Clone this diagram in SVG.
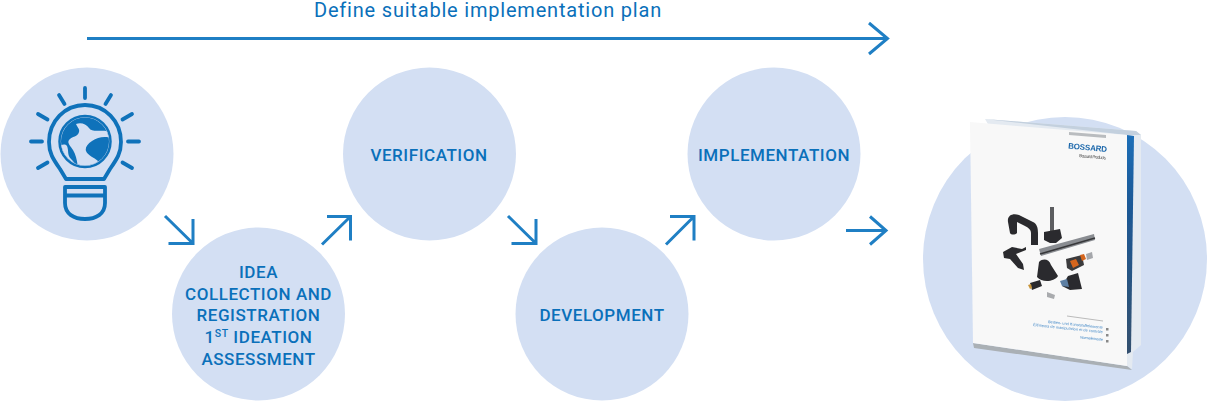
<svg xmlns="http://www.w3.org/2000/svg" width="1207" height="401" viewBox="0 0 1207 401">
<defs>
<style>
.c{fill:#d3dff3}
.t{font-family:"Roboto","Liberation Sans",sans-serif;font-weight:500;font-size:17px;fill:#0a70ba;text-anchor:middle;letter-spacing:.55px}
.a{fill:none;stroke:#1f7fc4;stroke-width:3}
.i{fill:none;stroke:#0f72ba;stroke-width:3.800;stroke-linecap:round;stroke-linejoin:round}
.k{fill:#2b2b2d}
</style>
<filter id="soft" x="-5%" y="-5%" width="110%" height="110%"><feGaussianBlur stdDeviation=".5"/></filter>
<clipPath id="globe"><circle cx="85" cy="141.500" r="24"/></clipPath>
<linearGradient id="blue" x1="0" y1="0" x2="0" y2="1"><stop offset="0" stop-color="#1f6fb8"/><stop offset=".3" stop-color="#1c5a98"/><stop offset="1" stop-color="#34506e"/></linearGradient>
</defs>
<rect width="1207" height="401" fill="#fff"/>
<g id="plan-arrow">
<text x="488" y="17" class="t" style="font-size:20px;letter-spacing:.8px;font-weight:400">Define suitable implementation plan</text>
<path class="a" d="M87 38.500H887M869 23L887.500 38.500L869 54"/>
</g>
<g id="node-idea">
<circle class="c" cx="87" cy="154" r="86.500"/>
<g class="i">
<path d="M85 88V98M59 95L64.500 104M111 95L105.500 104M38 114L47.500 119.500M132 114L122.500 119.500M31 141.500H42M128 141.500H139M38 168L47.500 162.500M132 168L122.500 162.500"/>
<path d="M66 179L60 169C53 159 49 153 49 142C49 121 65 105 85 105C105 105 121 121 121 142C121 153 117 159 110 169L104 179Z"/>
<path d="M65 187H105V203C105 214 96 219 85 219C74 219 65 214 65 203ZM65 195.500H105"/>
<circle cx="85" cy="141.500" r="25.500" stroke-width="2.500"/>
</g>
<circle cx="85" cy="141.500" r="24" fill="#0f72ba"/>
<g clip-path="url(#globe)">
<path class="c" d="M76 124C81 122 86 124 89 128C92 133 100 129 112 132L112 138C104 136 98 137 92 141C87 144 85 148 86 151C88 156 94 157 98 161L94 170L78 168C77 160 76 155 73 150C70 145 67 143 69 140C72 136 78 137 79 132C80 129 77 127 76 124Z"/>
<path class="c" d="M58 146C61 145 65 143 67 146C69 151 67 155 71 159C74 162 76 164 76 168L58 160Z"/>
</g>
</g>
<g id="node-idea-collection">
<circle class="c" cx="258.500" cy="314" r="86.500"/>
<text class="t"><tspan x="258.500" y="278">IDEA</tspan><tspan x="258.500" y="300">COLLECTION AND</tspan><tspan x="258.500" y="321">REGISTRATION</tspan><tspan x="258.500" y="343">1<tspan dy="-6" font-size="10.500">ST</tspan><tspan dy="6"> IDEATION</tspan></tspan><tspan x="258.500" y="365">ASSESSMENT</tspan></text>
</g>
<g id="node-verification">
<circle class="c" cx="429.500" cy="154" r="86.500"/>
<text x="429" y="160.500" class="t">VERIFICATION</text>
</g>
<g id="node-development">
<circle class="c" cx="602" cy="314" r="86.500"/>
<text x="602" y="320.500" class="t">DEVELOPMENT</text>
</g>
<g id="node-implementation">
<circle class="c" cx="774" cy="154" r="86.500"/>
<text x="774" y="160.500" class="t">IMPLEMENTATION</text>
</g>
<g id="connectors">
<path class="a" d="M165 216L193 243.500M193 219V243.500H168.500"/>
<path class="a" d="M322 244.500L350.500 216.500M327 216.500H350.500V240.500"/>
<path class="a" d="M508 216L536 243.500M536 219V243.500H511.500"/>
<path class="a" d="M666 244.500L694 216.500M670 216.500H694V240.500"/>
<path class="a" d="M846 230.500H886M870 216.500L886 230.500L870 244.500"/>
</g>
<g id="node-catalogue">
<circle class="c" cx="1065" cy="259" r="142"/>
<g filter="url(#soft)">
<path d="M985 119L1136 131L1141 135L1141 345L1133 352L1132 369L1127 366Z" fill="#e4eaf1"/>
<path d="M985 119L1136 131L1141 135L1127 135Z" fill="#c3d0de"/>
<path d="M1127 135L1134 136L1131 352L1127 354Z" fill="url(#blue)"/>
<path d="M973 343L1127 366L1132 370L974 348Z" fill="#aab0b5"/>
<path d="M970 122L1127 135L1127 366L973 343Z" fill="#f8f8f8"/>
<path d="M1069 132L1106 135V138L1069 135Z" fill="#b9bcbf"/>
<text x="1068" y="148.500" font-family="Liberation Sans,sans-serif" font-size="8" font-weight="700" fill="#1b67ab" textLength="39" transform="rotate(5 1068 148.500)">BOSSARD</text>
<text x="1079" y="157" font-family="Liberation Sans,sans-serif" font-size="4.500" fill="#555" textLength="27" transform="rotate(5 1079 157)">Bossard Products</text>
<g id="products">
<path d="M1008 222C1007 215 1013 213 1019 215L1033 222C1037 224 1038 228 1038 233V245H1031V233C1031 229 1027 227 1023 225L1017 222V233C1015 235 1011 235 1010 233Z" class="k"/>
<path d="M1050 207H1054V232H1050Z" fill="#5c5d60"/>
<path d="M1044 232L1060 229L1062 238L1056 243H1050L1044 240Z" class="k"/>
<path d="M1039 249L1094 234L1095 240L1041 256Z" fill="#8a8d92"/>
<path d="M1040 254L1095 238" stroke="#38393b" stroke-width="1.500" fill="none"/>
<path d="M1003 252L1012 247L1022 249L1026 247L1026 250L1016 254L1023 264L1024 270L1018 268L1010 259L1004 258Z" class="k"/>
<path d="M1039 262C1043 258 1049 259 1051 265L1058 276C1054 282 1042 283 1037 277Z" class="k"/>
<path d="M1066 259L1082 255L1084 265L1072 271L1067 268Z" fill="#3a3a3c"/>
<path d="M1070 261L1076 259L1079 265L1073 268ZM1080 255L1084 254L1086 259L1082 261Z" fill="#d4651f"/>
<path d="M1086 254L1092 252L1093 258L1087 260Z" fill="#a5a7ab"/>
<path d="M1068 276L1078 273L1082 289L1070 290L1062 286Z" class="k"/>
<path d="M1060 281L1067 279L1069 287L1062 286Z" fill="#5d7fa3"/>
<path d="M1030 283L1040 280L1042 286L1032 290Z" class="k"/>
<path d="M1028 285L1031 284L1032 288L1030 289Z" fill="#c8953a"/>
<path d="M1047 292L1055 295L1054 299L1047 297Z" fill="#a9abae"/>
</g>
<path d="M1067 316L1103 321" stroke="#bbb" stroke-width="1" fill="none"/>
<g font-family="Liberation Sans,sans-serif" font-size="3.800" fill="#3f86c6">
<text x="1048" y="323" textLength="55" transform="rotate(6 1048 323)">Bedien- und Kunststoffelemente</text>
<text x="1033" y="326" textLength="70" transform="rotate(6 1033 326)">Éléments de manipulation et de contrôle</text>
<text x="1080" y="338.500" textLength="23" transform="rotate(6 1080 338.500)">Normelemente</text>
</g>
<path d="M1106 328h2.500v2.500h-2.500ZM1106 334h2.500v2.500h-2.500ZM1106 340h2.500v2.500h-2.500Z" fill="#888"/>
</g>
</g>
</svg>
